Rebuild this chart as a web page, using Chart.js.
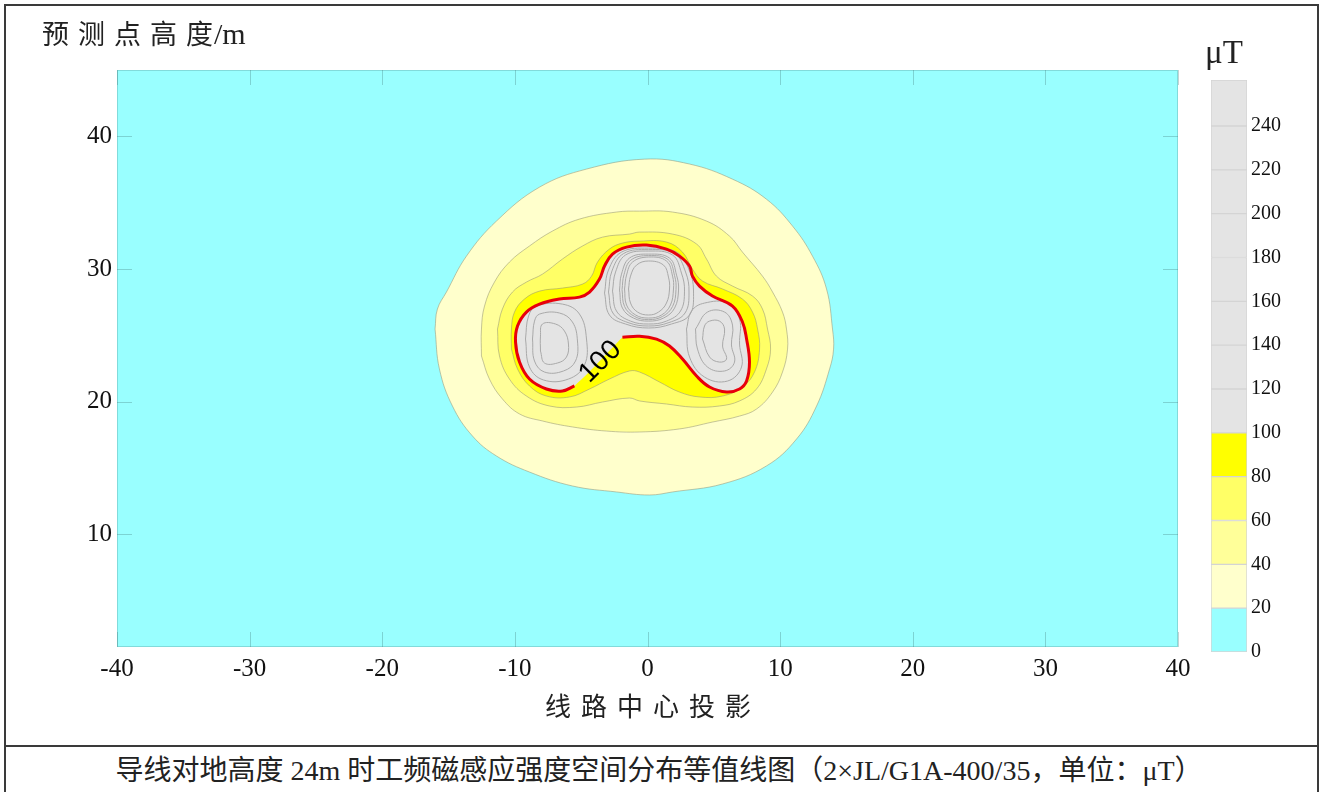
<!DOCTYPE html>
<html>
<head>
<meta charset="utf-8">
<script src="https://cdn.jsdelivr.net/npm/chart.js@4.4.1/dist/chart.umd.min.js"></script>
<style>
  body { margin: 0; width: 1322px; height: 792px; overflow: hidden; position: relative; background: #fff;
         font-family: "Liberation Serif", "Noto Sans CJK SC", serif; color: #222; }
  .frame { position: absolute; left: 4px; top: 4px; width: 1315px; height: 800px; border: 2px solid #3a3a3a; box-sizing: border-box; }
  .sep { position: absolute; left: 4px; top: 745px; width: 1315px; border-top: 2px solid #3a3a3a; }
  #main { position: absolute; left: 0; top: 0; }
  #bar { position: absolute; left: 1200px; top: 60px; }
  .ytitle { position: absolute; left: 42px; top: 17px; font-size: 27px; line-height: 34px; white-space: nowrap; }
  .ytitle .cn { letter-spacing: 9px; }
  .ytitle .en { font-size: 30px; margin-left: 1px; }
  .xtitle { position: absolute; left: 0; top: 692px; width: 1296px; padding-left: 10px; box-sizing: border-box;
            text-align: center; font-size: 26px; letter-spacing: 10px; line-height: 32px; }
  .unit { position: absolute; left: 1205px; top: 32px; font-size: 33px; line-height: 40px; }
  .caption { position: absolute; left: 0; top: 750px; width: 1318px; text-align: center; font-size: 28px; line-height: 42px; white-space: nowrap; }
</style>
</head>
<body>
<div class="frame"></div>
<div class="sep"></div>
<canvas id="main" width="1200" height="700"></canvas>
<canvas id="bar" width="115" height="612"></canvas>
<div class="ytitle"><span class="cn">预测点高</span>度<span class="en">/m</span></div>
<div class="xtitle">线路中心投影</div>
<div class="unit">μT</div>
<div class="caption">导线对地高度 24m 时工频磁感应强度空间分布等值线图（2×JL/G1A-400/35，单位：μT）</div>
<script>
// axes
const xRange = [-40, 40];
const yRange = [1.5, 45];
const xTicks = [-40, -30, -20, -10, 0, 10, 20, 30, 40];
const yTicks = [10, 20, 30, 40];

// contour outlines, [x, y]
const c20 = [[-0.23,38.28],[3.17,37.91],[6.41,36.77],[8.97,35.26],[10.94,33.23],[12.44,30.97],[13.50,28.49],
  [13.95,25.47],[14.03,23.96],[13.73,22.46],[12.75,19.67],[11.24,17.18],[8.97,15.15],[5.66,13.79],[1.89,13.19],
  [0.15,12.96],[-2.34,13.19],[-5.66,13.64],[-8.90,14.69],[-11.39,15.90],[-13.20,17.41],[-14.71,19.67],
  [-15.69,22.46],[-16.02,25.47],[-15.84,26.98],[-15.16,28.26],[-13.65,30.97],[-11.39,33.61],[-8.14,36.17],[-4.60,37.53]];
const c40 = [[-0.60,34.36],[1.89,34.29],[4.45,33.61],[6.18,32.48],[7.16,31.27],[8.67,29.46],[9.43,28.26],
  [10.18,26.75],[10.48,25.47],[10.56,23.96],[10.18,22.23],[9.43,20.72],[8.22,19.44],[6.94,18.91],[4.90,18.46],
  [2.41,17.94],[-0.60,17.71],[-3.09,17.78],[-5.66,18.09],[-7.92,18.54],[-9.65,19.07],[-10.94,20.20],
  [-11.92,21.70],[-12.52,23.44],[-12.52,25.47],[-12.29,27.20],[-11.54,29.01],[-10.41,30.52],[-8.90,31.73],
  [-7.16,32.86],[-5.13,33.76],[-2.34,34.29]];
const c60 = [[-0.60,32.78],[1.89,32.63],[3.70,31.88],[4.45,30.75],[5.20,29.46],[6.41,28.71],[7.92,27.96],
  [8.67,26.98],[9.05,25.47],[9.28,23.96],[8.97,22.46],[8.22,20.95],[6.94,20.05],[5.43,19.67],[3.39,19.59],
  [1.43,19.82],[-0.60,20.05],[-1.36,20.27],[-3.39,19.97],[-5.35,19.59],[-7.39,19.67],[-9.13,20.42],
  [-10.41,21.70],[-11.16,23.44],[-11.31,25.47],[-10.94,26.98],[-10.18,28.26],[-9.13,29.01],[-7.92,29.61],
  [-6.41,30.75],[-4.90,31.73],[-3.39,32.40],[-1.36,32.63]];
const c80 = [[-0.60,32.10],[1.43,32.03],[2.64,31.27],[3.39,29.99],[4.15,29.09],[5.66,28.49],[7.16,27.73],
  [7.92,26.75],[8.30,25.47],[8.45,23.96],[8.07,22.23],[7.16,21.10],[5.66,20.42],[3.92,20.35],[2.41,20.72],
  [0.90,21.48],[-0.60,22.23],[-1.36,22.31],[-2.87,21.70],[-4.37,20.95],[-5.88,20.35],[-7.62,20.42],
  [-8.90,21.18],[-9.80,22.46],[-10.26,23.96],[-10.26,25.47],[-10.03,26.75],[-9.28,27.73],[-8.14,28.33],
  [-6.41,28.56],[-4.90,28.86],[-4.22,29.46],[-3.77,30.52],[-2.87,31.50],[-1.89,31.95]];
// 100 uT line, starts and ends at the gap left for the label
const c100 = [[-1.89,24.85],[-0.60,24.93],[0.68,24.71],[1.66,24.19],[2.64,23.21],[3.70,21.93],[4.68,21.10],
  [5.96,20.72],[6.94,20.95],[7.47,21.55],[7.69,22.98],[7.47,24.72],[7.16,26.00],[6.41,27.20],[4.90,27.96],
  [3.92,28.71],[3.39,29.46],[3.17,30.22],[2.41,30.97],[1.43,31.50],[-0.08,31.80],[-1.58,31.65],[-2.64,31.12],
  [-3.24,30.22],[-3.62,29.24],[-4.37,28.26],[-5.13,27.88],[-6.64,27.73],[-8.14,27.35],[-9.13,26.75],
  [-9.80,25.70],[-9.95,24.49],[-9.65,22.98],[-8.90,21.70],[-7.62,20.95],[-6.41,20.80],[-5.51,21.18]];
const label100 = { text: '100', x: -3.55, y: 23.0 };

// thin contours above 100 uT
const ringC1 = [[0.08,30.60],[1.21,30.29],[1.58,29.39],[1.66,28.49],[1.43,27.43],[0.83,26.75],[0.08,26.53],
  [-0.75,26.75],[-1.28,27.43],[-1.43,28.49],[-1.28,29.46],[-0.83,30.29]];
const ringC2 = [[0.08,30.90],[1.43,30.60],[1.89,29.46],[1.96,28.49],[1.73,27.28],[1.06,26.53],[0.08,26.30],
  [-0.90,26.53],[-1.58,27.28],[-1.73,28.49],[-1.58,29.54],[-1.13,30.52]];
const ringC3 = [[0.08,31.01],[1.55,30.71],[2.04,29.50],[2.15,28.45],[1.89,27.17],[1.13,26.42],[0.08,26.18],
  [-0.98,26.42],[-1.73,27.17],[-1.92,28.45],[-1.77,29.58],[-1.25,30.67]];
const ringC4 = [[0.08,31.12],[1.66,30.82],[2.19,29.54],[2.34,28.41],[2.04,27.05],[1.21,26.30],[0.08,26.07],
  [-1.06,26.30],[-1.89,27.05],[-2.11,28.41],[-1.96,29.61],[-1.36,30.82]];
const ringC5 = [[0.08,31.35],[1.89,31.05],[2.56,29.69],[2.79,28.33],[2.49,26.83],[1.43,26.07],[0.08,25.85],
  [-1.28,26.07],[-2.34,26.83],[-2.64,28.33],[-2.41,29.77],[-1.66,31.05]];
const ringC6 = [[0.08,31.46],[2.04,31.16],[2.87,29.77],[3.13,28.26],[2.83,26.68],[1.62,25.96],[0.08,25.70],
  [-1.47,25.96],[-2.61,26.68],[-2.94,28.26],[-2.68,29.85],[-1.81,31.16]];
const ringC7 = [[0.08,31.57],[2.19,31.27],[3.17,29.84],[3.47,28.18],[3.17,26.53],[1.81,25.85],[0.08,25.55],
  [-1.66,25.85],[-2.87,26.53],[-3.24,28.18],[-2.94,29.92],[-1.96,31.27]];
const ringL1 = [[-7.92,25.85],[-6.94,25.85],[-6.26,25.32],[-5.96,24.34],[-6.11,23.36],[-6.79,22.91],
  [-7.77,22.91],[-8.07,23.81],[-8.07,24.94]];
const ringL2 = [[-8.14,26.60],[-6.64,26.68],[-5.66,26.00],[-5.28,24.57],[-5.43,23.06],[-6.33,22.31],
  [-7.77,22.23],[-8.52,23.06],[-8.67,24.72],[-8.52,26.07]];
const ringL3 = [[-8.37,27.20],[-6.41,27.35],[-5.13,26.60],[-4.60,24.72],[-4.75,22.76],[-5.96,21.70],
  [-7.84,21.63],[-8.90,22.61],[-9.20,24.72],[-8.97,26.45]];
const ringR1 = [[4.68,26.07],[5.43,26.07],[5.81,25.47],[5.66,24.19],[5.96,23.21],[5.43,22.98],[4.68,23.36],
  [4.15,24.72],[4.30,25.70]];
const ringR2 = [[4.52,26.75],[5.81,26.75],[6.41,25.77],[6.33,24.27],[6.56,22.98],[5.81,22.31],[4.52,22.61],
  [3.77,23.96],[3.62,25.47]];
const ringR3 = [[4.30,27.43],[6.03,27.43],[6.94,26.22],[6.94,24.34],[7.09,22.61],[6.03,21.55],[4.30,21.85],
  [3.17,23.36],[2.94,25.47],[3.32,26.83]];

// colour bar
const cbLevels = [0, 20, 40, 60, 80, 100, 120, 140, 160, 180, 200, 220, 240, 261];
const cbColors = ['#99ffff', '#ffffcc', '#ffff99', '#ffff66', '#ffff00',
  '#e4e4e4', '#e4e4e4', '#e4e4e4', '#e4e4e4', '#e4e4e4', '#e4e4e4', '#e4e4e4', '#e4e4e4'];
const cbTicks = [0, 20, 40, 60, 80, 100, 120, 140, 160, 180, 200, 220, 240];

const toXY = pts => pts.map(p => ({ x: p[0], y: p[1] }));
// close a loop, starting at its leftmost point where the outline runs nearly straight
function closed(pts) {
  let k = 0;
  pts.forEach((p, i) => { if (p[0] < pts[k][0]) k = i; });
  const r = pts.slice(k).concat(pts.slice(0, k));
  return toXY(r.concat([r[0]]));
}
const edgeColor = 'rgba(150,150,120,0.55)';

function area(pts, color) {
  return { data: closed(pts), backgroundColor: color, borderColor: edgeColor, borderWidth: 1, fill: 'shape' };
}

const rings = [ringC1, ringC2, ringC3, ringC4, ringC5, ringC6, ringC7, ringL1, ringL2, ringL3, ringR1, ringR2, ringR3];

const datasets = [
  { data: toXY(c100), borderColor: '#e8000b', borderWidth: 3, fill: false },
  ...rings.map(r => ({ data: closed(r), borderColor: '#a9a9a9', borderWidth: 1, fill: false })),
  { data: toXY(c100.concat([c100[0]])), backgroundColor: '#e4e4e4', borderWidth: 0, fill: 'shape' },
  area(c80, '#ffff00'),
  area(c60, '#ffff66'),
  area(c40, '#ffff99'),
  area(c20, '#ffffcc'),
];

// cyan background, inner ticks on every side, the "100" label
const plotDeco = {
  id: 'plotDeco',
  beforeDraw(chart) {
    const a = chart.chartArea, ctx = chart.ctx;
    ctx.save();
    ctx.fillStyle = '#99ffff';
    ctx.fillRect(a.left, a.top, a.right - a.left, a.bottom - a.top);
    ctx.restore();
  },
  afterDatasetsDraw(chart) {
    const ctx = chart.ctx, xs = chart.scales.x, ys = chart.scales.y;
    ctx.save();
    ctx.translate(xs.getPixelForValue(label100.x), ys.getPixelForValue(label100.y));
    ctx.rotate(-Math.PI / 4);
    ctx.font = '28px "Liberation Sans", Arial, sans-serif';
    ctx.fillStyle = '#000';
    ctx.textAlign = 'center';
    ctx.textBaseline = 'middle';
    ctx.fillText(label100.text, 0, 0);
    ctx.restore();
  },
  afterDraw(chart) {
    const a = chart.chartArea, ctx = chart.ctx, xs = chart.scales.x, ys = chart.scales.y;
    const len = 15;
    ctx.save();
    ctx.strokeStyle = 'rgba(60,110,110,0.3)';
    ctx.lineWidth = 1;
    ctx.beginPath();
    xTicks.forEach(t => {
      const px = Math.round(xs.getPixelForValue(t)) + 0.5;
      ctx.moveTo(px, a.bottom); ctx.lineTo(px, a.bottom - len);
      ctx.moveTo(px, a.top); ctx.lineTo(px, a.top + len);
    });
    yTicks.forEach(t => {
      const py = Math.round(ys.getPixelForValue(t)) + 0.5;
      ctx.moveTo(a.left, py); ctx.lineTo(a.left + len, py);
      ctx.moveTo(a.right, py); ctx.lineTo(a.right - len, py);
    });
    ctx.stroke();
    ctx.strokeStyle = 'rgba(60,110,110,0.25)';
    ctx.strokeRect(a.left + 0.5, a.top + 0.5, a.right - a.left - 1, a.bottom - a.top - 1);
    ctx.restore();
  }
};

const tickFont = { family: '"Liberation Serif", serif', size: 25 };

new Chart(document.getElementById('main'), {
  type: 'scatter',
  data: { datasets },
  options: {
    responsive: false,
    animation: false,
    layout: { padding: { left: 0, top: 70, right: 22, bottom: 13 } },
    elements: { point: { radius: 0 }, line: { tension: 0.4 } },
    datasets: { scatter: { showLine: true, pointRadius: 0 } },
    plugins: { legend: { display: false }, tooltip: { enabled: false } },
    scales: {
      x: {
        type: 'linear', min: xRange[0], max: xRange[1],
        afterBuildTicks: s => { s.ticks = xTicks.map(v => ({ value: v })); },
        afterFit: s => { s.height = 40; },
        grid: { display: false, drawTicks: false },
        border: { display: false },
        ticks: { font: tickFont, color: '#111', padding: 7, maxRotation: 0 }
      },
      y: {
        type: 'linear', min: yRange[0], max: yRange[1],
        afterBuildTicks: s => { s.ticks = yTicks.map(v => ({ value: v })); },
        afterFit: s => { s.width = 117; },
        grid: { display: false, drawTicks: false },
        border: { display: false },
        ticks: { font: tickFont, color: '#111', padding: 5 }
      }
    }
  },
  plugins: [plotDeco]
});

new Chart(document.getElementById('bar'), {
  type: 'bar',
  data: {
    labels: ['B'],
    datasets: cbColors.map((col, i) => ({
      data: [[cbLevels[i], cbLevels[i + 1]]],
      backgroundColor: col,
      borderColor: '#d4d4d4',
      borderWidth: 1,
      borderSkipped: false,
      grouped: false,
      barPercentage: 1,
      categoryPercentage: 1
    }))
  },
  options: {
    responsive: false,
    animation: false,
    layout: { padding: { left: 11, top: 20, right: 0, bottom: 20 } },
    plugins: { legend: { display: false }, tooltip: { enabled: false } },
    scales: {
      x: { display: false },
      y: {
        position: 'right', min: 0, max: cbLevels[cbLevels.length - 1],
        afterBuildTicks: s => { s.ticks = cbTicks.map(v => ({ value: v })); },
        afterFit: s => { s.width = 68; },
        grid: { display: false, drawTicks: false },
        border: { display: false },
        ticks: { font: { family: '"Liberation Serif", serif', size: 20 }, color: '#111', padding: 4 }
      }
    }
  }
});
</script>
</body>
</html>
